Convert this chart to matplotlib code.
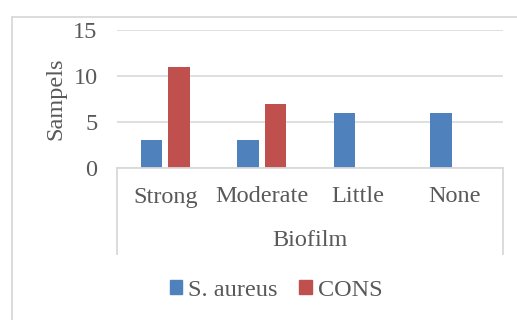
import matplotlib
matplotlib.use('Agg')
import matplotlib.pyplot as plt
from matplotlib.lines import Line2D
from matplotlib.patches import Patch
import numpy as np

# data
categories = ['Strong', 'Moderate', 'Little', 'None']
s_aureus = [3, 3, 6, 6]
cons = [11, 7, 0, 0]
yticks = [0, 5, 10, 15]

BLUE = '#4F81BD'
RED = '#C0504D'
TEXT = '#595959'
GRID = '#D9D9D9'
FS = 17.5

plt.rcParams['font.family'] = ['Liberation Serif', 'DejaVu Serif']

W, H = 517, 320
fig = plt.figure(figsize=(W / 100, H / 100), dpi=100)

def fx(px): return px / W
def fy(py): return 1 - py / H

# plot area
left, right, top, bottom = 117, 503, 30, 168
ax = fig.add_axes([fx(left), fy(bottom), fx(right - left), (bottom - top) / H])
x = np.arange(len(categories))
ax.bar(x - 0.142, s_aureus, width=0.225, color=BLUE, zorder=3)
ax.bar(x + 0.142, cons, width=0.225, color=RED, zorder=3)
ax.set_xlim(-0.5, len(categories) - 0.5)
ax.set_ylim(0, 15)
ax.set_yticks(yticks)
ax.set_xticks([])
ax.yaxis.grid(True, color=GRID, linewidth=1.2, zorder=0)
for s in ax.spines.values():
    s.set_visible(False)
ax.tick_params(axis='y', length=0, pad=14, labelsize=FS, labelcolor=TEXT)
ax.set_ylabel('Sampels', fontsize=FS, color=TEXT, labelpad=5)

# category axis box
lines = [
    ((left, right), (bottom, bottom)),
    ((left, left), (bottom, 254)),
    ((right, right), (bottom, 254)),
    ((12, W), (17, 17)),          # chart border top
    ((12, 12), (17, H)),          # chart border left
]
for xs, ys in lines:
    fig.add_artist(Line2D([fx(v) for v in xs], [fy(v) for v in ys],
                          color=GRID, linewidth=1.3))

step = (right - left) / len(categories)
for i, c in enumerate(categories):
    fig.text(fx(left + step * (i + 0.5)), fy(197), c, ha='center', va='center',
             fontsize=FS, color=TEXT)
fig.text(fx((left + right) / 2), fy(240), 'Biofilm', ha='center', va='center',
         fontsize=FS, color=TEXT)

handles = [Patch(color=BLUE, label='S. aureus'), Patch(color=RED, label='CONS')]
fig.legend(handles=handles, loc='center', bbox_to_anchor=(fx(276), fy(290)),
           ncol=2, frameon=False, fontsize=FS, labelcolor=TEXT,
           handlelength=0.5, handleheight=0.5, handletextpad=0.25,
           columnspacing=0.9)

fig.savefig('out.png', dpi=100)
